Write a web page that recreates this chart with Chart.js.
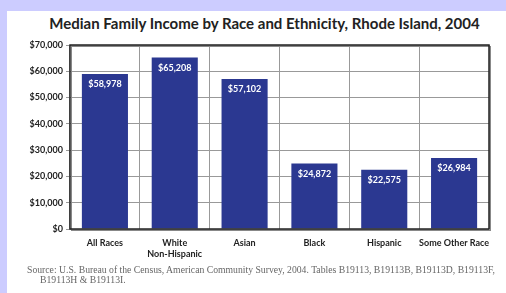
<!DOCTYPE html>
<html>
<head>
<meta charset="utf-8">
<script src="https://cdn.jsdelivr.net/npm/chart.js@4"></script>
<style>
  html, body { margin: 0; padding: 0; }
  body { width: 506px; height: 293px; background: #ccccff; position: relative; overflow: hidden; }
  #panel { position: absolute; left: 7px; top: 11px; right: 0; bottom: 0; background: #fff; }
  #wrap { position: absolute; left: 0; top: 0; width: 506px; height: 293px; }
  #title { position: absolute; left: 0; width: 529px; top: 14px; text-align: center;
           font-family: Lato, "Open Sans", sans-serif; font-weight: bold; font-size: 15px; line-height: 18px; color: #222; }
  #source { position: absolute; left: 27px; top: 265px; width: 478px; font-family: "Liberation Serif", serif;
            font-size: 9.7px; line-height: 10px; color: #666; white-space: nowrap; }
  #source .l2 { padding-left: 13px; }
</style>
</head>
<body>
<div id="panel"></div>
<div id="title">Median Family Income by Race and Ethnicity, Rhode Island, 2004</div>
<div id="wrap"><canvas id="incomeChart" width="506" height="293"></canvas></div>
<div id="source">
  <div>Source: U.S. Bureau of the Census, American Community Survey, 2004. Tables B19113, B19113B, B19113D, B19113F,</div>
  <div class="l2">B19113H &amp; B19113I.</div>
</div>
<script>
// 데이터
const categories = ['All Races', ['White', 'Non-Hispanic'], 'Asian', 'Black', 'Hispanic', 'Some Other Race'];
const incomes = [58978, 65208, 57102, 24872, 22575, 26984];
const yTicks = [0, 10000, 20000, 30000, 40000, 50000, 60000, 70000];

const barColor = '#2b3891';
const fontFamily = 'Lato, "Open Sans", sans-serif';

// 값을 달러 형식으로
function money(v) {
    return '$' + v.toLocaleString('en-US');
}

// 막대 안쪽 위에 값 표시
const valueLabels = {
    id: 'valueLabels',
    afterDatasetsDraw(chart) {
        const ctx = chart.ctx;
        const meta = chart.getDatasetMeta(0);
        ctx.save();
        ctx.fillStyle = '#ffffff';
        ctx.font = 'bold 9px ' + fontFamily;
        ctx.textAlign = 'center';
        ctx.textBaseline = 'middle';
        meta.data.forEach((bar, i) => {
            ctx.fillText(money(incomes[i]), bar.x, bar.y + 10);
        });
        ctx.restore();
    }
};

// 플롯 영역 테두리
const plotFrame = {
    id: 'plotFrame',
    afterDraw(chart) {
        const a = chart.chartArea;
        const ctx = chart.ctx;
        ctx.save();
        ctx.strokeStyle = '#888';
        ctx.lineWidth = 1;
        ctx.strokeRect(a.left + 1.5, a.top + 1.5, a.right - a.left, a.bottom - a.top);
        ctx.strokeStyle = '#222';
        ctx.lineWidth = 1.5;
        ctx.strokeRect(a.left, a.top, a.right - a.left, a.bottom - a.top);
        ctx.restore();
    }
};

const ctx = document.getElementById('incomeChart').getContext('2d');
new Chart(ctx, {
    type: 'bar',
    data: {
        labels: categories,
        datasets: [{
            data: incomes,
            backgroundColor: barColor,
            borderWidth: 0,
            barPercentage: 0.66,
            categoryPercentage: 1
        }]
    },
    options: {
        responsive: false,
        animation: false,
        layout: { padding: { left: 0, right: 17, top: 45, bottom: 0 } },
        plugins: {
            legend: { display: false },
            tooltip: { enabled: false },
            title: { display: false }
        },
        scales: {
            x: {
                grid: { color: '#999', lineWidth: 1, offset: true, drawTicks: false },
                border: { display: false },
                ticks: {
                    color: '#222',
                    font: { family: fontFamily, size: 9, weight: 'bold' },
                    padding: 9,
                    maxRotation: 0,
                    autoSkip: false
                },
                afterFit(scale) { scale.height = 64; }
            },
            y: {
                min: 0,
                max: 70000,
                afterBuildTicks(scale) {
                    scale.ticks = yTicks.map(v => ({ value: v }));
                },
                grid: { color: '#999', lineWidth: 1, tickLength: 4 },
                border: { display: false },
                ticks: {
                    color: '#222',
                    font: { family: fontFamily, size: 9, weight: 'bold' },
                    padding: 3,
                    callback: v => money(v)
                },
                afterFit(scale) { scale.width = 70; }
            }
        }
    },
    plugins: [valueLabels, plotFrame]
});
</script>
</body>
</html>
